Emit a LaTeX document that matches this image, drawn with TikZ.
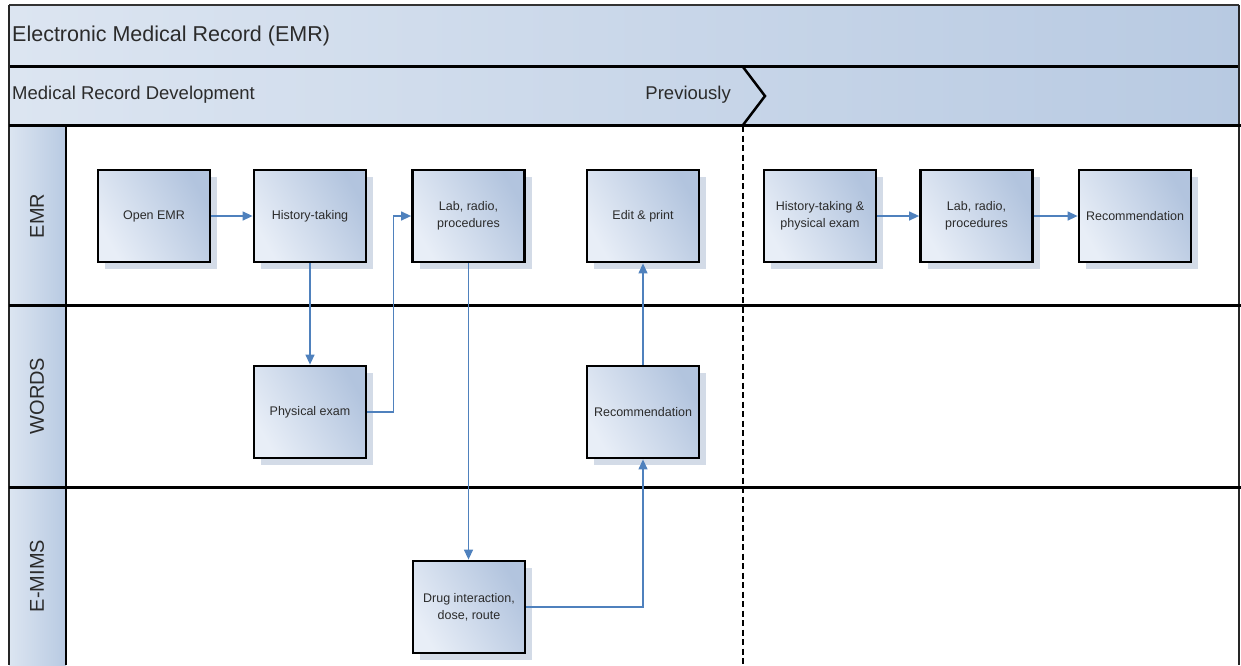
\documentclass[tikz,border=0pt]{standalone}
\usepackage{fontspec}
\setmainfont{Liberation Sans}
\usetikzlibrary{arrows.meta,shadows,calc}
\definecolor{bandL}{HTML}{DCE5F1}
\definecolor{bandD}{HTML}{B8CAE2}
\definecolor{boxL}{HTML}{E8EEF7}
\definecolor{boxD}{HTML}{B2C4DE}
\definecolor{shadowc}{HTML}{D3DBE7}
\definecolor{flow}{HTML}{4F81BD}
\definecolor{txt}{HTML}{2B2B2B}
\tikzset{
  stepbox/.style={draw=black, line width=2.8pt, shade, left color=boxL, right color=boxD, shading angle=120,
    minimum width=112pt, minimum height=92pt, align=center, text=txt,
    font=\fontsize{12.5}{17}\selectfont, inner sep=2pt,
    drop shadow={shadow xshift=7pt, shadow yshift=-7pt, fill=shadowc, opacity=1}},
  flowarrow/.style={draw=flow, line width=1.3pt, -{Triangle[length=10pt,width=9pt]}},
  lanelabel/.style={rotate=90, font=\fontsize{20}{22}\selectfont, text=txt},
  sepline/.style={line width=3pt, black}
}
\begin{document}
\begin{tikzpicture}[x=1pt,y=-1pt]
\useasboundingbox (0,0) rectangle (1241,665);
% header bands
\shade[left color=bandL, right color=bandD] (9,5) rectangle (1239,66);
\shade[left color=bandL, right color=bandD] (9,67) rectangle (1239,125);
\draw[line width=1.5pt, black!80] (9,5) -- (1239,5);
\draw[sepline, line width=2.5pt] (9,66.5) -- (1239,66.5);
% lane column
\shade[left color=bandL, right color=bandD] (9,125) rectangle (66,665);
% frame
\draw[line width=1.5pt, black!85] (9,5) -- (9,665);
\draw[line width=1.5pt, black!85] (1239,5) -- (1239,665);
\draw[line width=2.5pt] (66,125) -- (66,665);
\draw[sepline] (9,125) -- (1241,125);
\draw[sepline] (9,305.5) -- (1241,305.5);
\draw[sepline] (9,487) -- (1241,487);
% chevron and dashed divider
\draw[line width=2.5pt, line join=miter] (743,67) -- (765,96) -- (743,125);
\draw[line width=2.2pt, dash pattern=on 6pt off 3.5pt] (743,126) -- (743,665);
% header texts
\node[anchor=west, font=\fontsize{21.5}{24}\selectfont, text=txt, inner sep=0pt] (title) at (12,36) {Electronic Medical Record (EMR)};
\node[anchor=west, font=\fontsize{18.5}{20}\selectfont, text=txt, inner sep=0pt] (phase) at (12,95) {Medical Record Development};
\node[anchor=east, font=\fontsize{18.5}{20}\selectfont, text=txt, inner sep=0pt] (prev) at (731,95) {Previously};
% lane labels
\node[lanelabel] (l1) at (37,216) {EMR};
\node[lanelabel] (l2) at (37,396) {WORDS};
\node[lanelabel] (l3) at (37,576) {E-MIMS};
% boxes
\node[stepbox] (open) at (154,216) {Open EMR};
\node[stepbox] (hist) at (310,216) {History-taking};
\node[stepbox] (lab) at (468.5,216) {Lab, radio,\\procedures};
\node[stepbox] (edit) at (643,216) {Edit \& print};
\node[stepbox] (hist2) at (820,216) {History-taking \&\\physical exam};
\node[stepbox] (lab2) at (976.5,216) {Lab, radio,\\procedures};
\node[stepbox] (rec2) at (1135,216) {Recommendation};
\node[stepbox] (phys) at (310,412) {Physical exam};
\node[stepbox] (rec) at (643,412) {Recommendation};
\node[stepbox] (drug) at (469,607) {Drug interaction,\\dose, route};
% connectors
\draw[flowarrow] (open) -- (hist);
\draw[flowarrow] (hist.south) -- (phys.north);
\draw[flowarrow] (phys.east) -- ++(26,0) |- (lab.west);
\draw[flowarrow] (lab.south) -- (drug.north -| lab.south);
\draw[flowarrow] (drug.east) -| (rec.south);
\draw[flowarrow] (rec.north) -- (edit.south);
\draw[flowarrow] (hist2) -- (lab2);
\draw[flowarrow] (lab2) -- (rec2);
\end{tikzpicture}
\end{document}
